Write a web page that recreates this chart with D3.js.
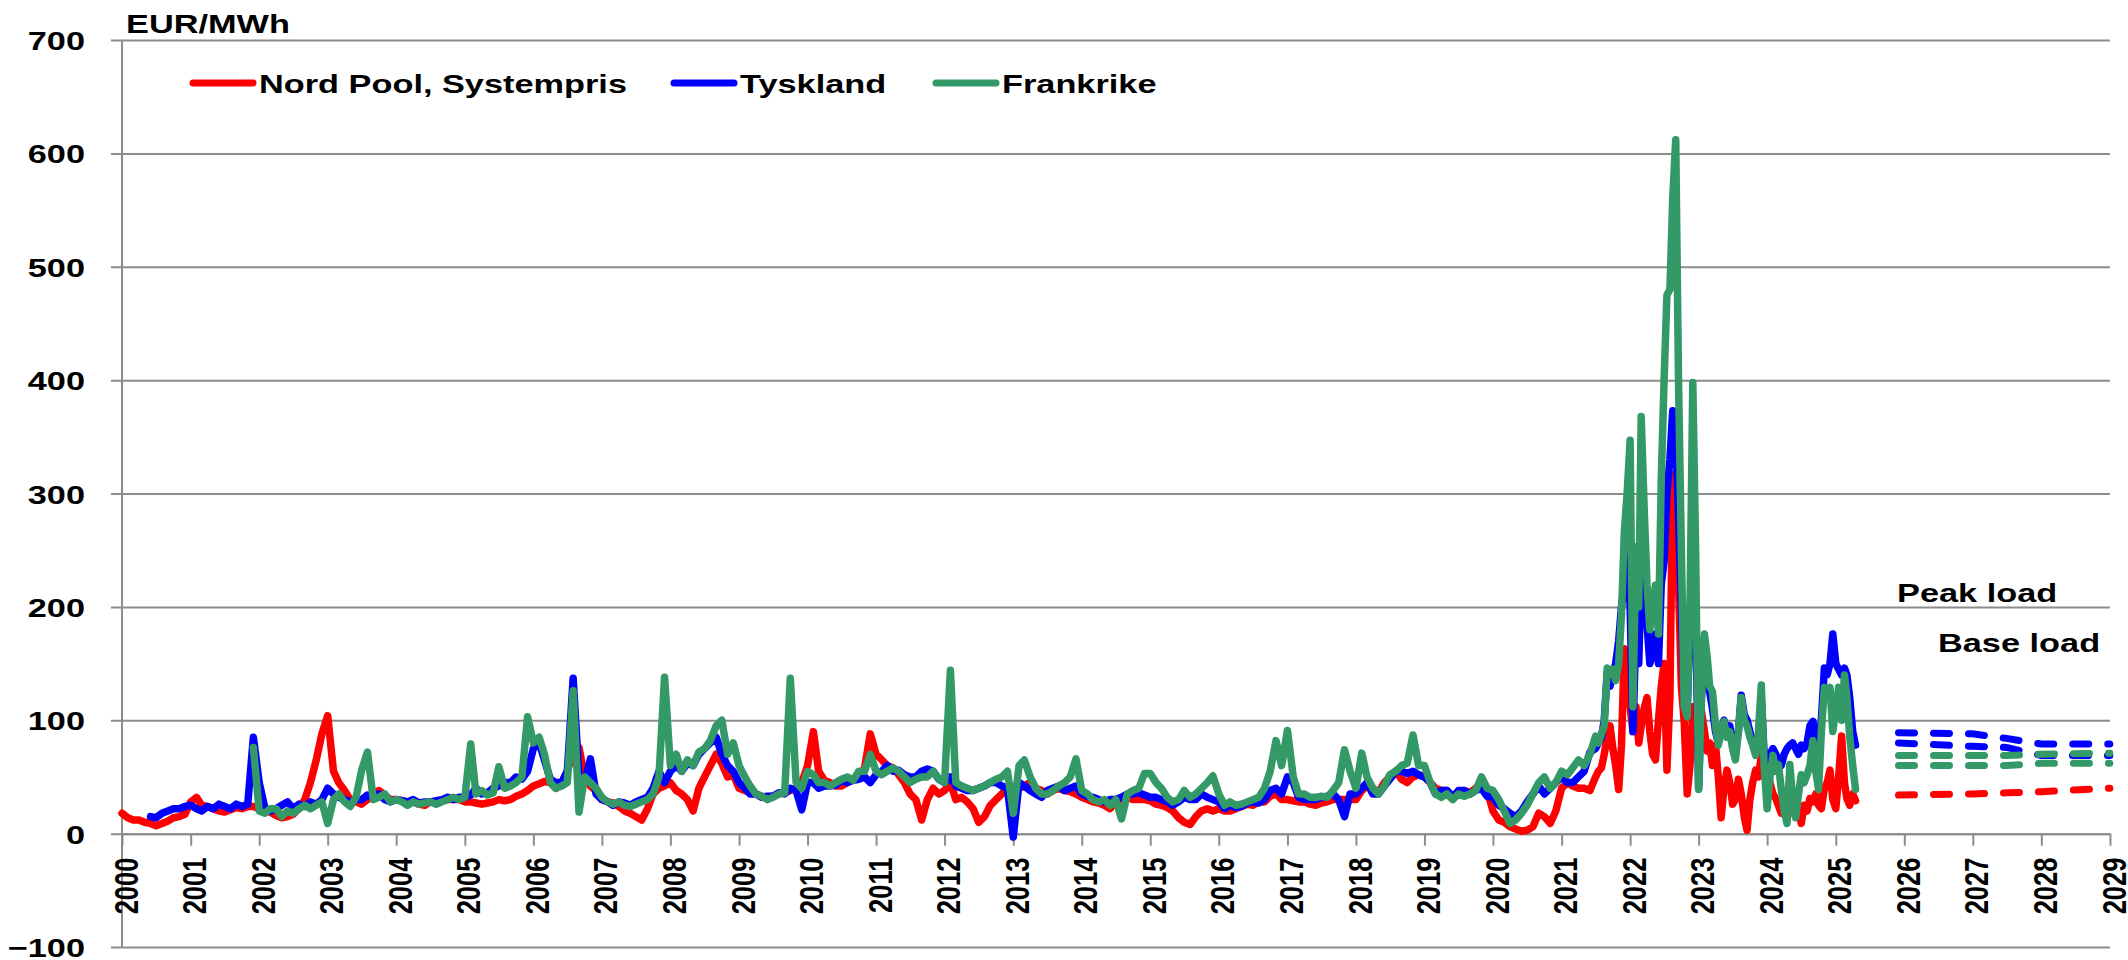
<!DOCTYPE html>
<html>
<head>
<meta charset="utf-8">
<script src="https://cdn.jsdelivr.net/npm/d3@7"></script>
<style>
  body { margin: 0; background: #fff; }
  text { font-family: "Liberation Sans", Arial, sans-serif; font-weight: bold; fill: #000; }
</style>
</head>
<body>
<div id="chart"></div>
<script>
// monthly values, Jan 2000 .. Jun 2021 (EUR/MWh)
var nordPool = [
  18, 14, 12, 12, 10, 9, 7, 9, 11, 14, 15, 17,
  28, 32, 25, 24, 22, 20, 19, 21, 23, 22, 24, 24,
  22, 20, 19, 16, 14, 15, 17, 22, 30, 45, 65, 88,
  104, 55, 45, 38, 30, 28, 26, 30, 35, 38, 34, 30,
  30, 29, 28, 28, 26, 25, 28, 27, 29, 30, 30, 30,
  28, 28, 27, 26, 27, 28, 30, 29, 30, 33, 35, 38,
  42, 44, 46, 45, 40, 45, 55, 72, 76, 50, 42, 38,
  30, 28, 27, 24, 20, 18, 15, 12, 22, 35, 40, 42,
  45, 38, 35, 30, 20, 40, 50, 60, 70, 62, 50, 52,
  40, 38, 36, 35, 33, 32, 33, 35, 36, 38, 40, 45,
  60, 90, 55, 47, 45, 42, 42, 45, 48, 50, 58, 88,
  70, 65, 60, 58, 52, 45, 35, 30, 12, 30, 40, 35,
  38, 45, 30, 32, 28, 22, 10, 15, 25, 30, 35, 40,
  42, 40, 42, 45, 40, 38, 35, 38, 40, 38, 37, 35,
  32, 30, 28, 27, 25, 22, 28, 30, 32, 30, 30, 30,
  29, 26, 25, 23, 20, 14, 10, 8, 15, 20, 22, 20,
  22, 20, 20, 22, 24, 26, 25, 28, 28, 33, 35, 30,
  30, 29, 28, 28, 26, 25, 27, 28, 30, 30, 30, 30,
  30, 38, 42, 40, 36, 45, 50, 55, 48, 45, 50, 52,
  50, 45, 40, 38, 38, 32, 34, 38, 36, 40, 42, 38,
  20, 12, 10, 6, 4, 2, 3, 6, 18, 15, 9, 20,
  40, 45, 42, 40, 40, 38
];

var tyskland = [
  null, null, null, null, null, 15, 14, 18, 20, 22, 22, 24,
  25, 22, 20, 24, 22, 26, 24, 22, 26, 24, 26, 85,
  45, 22, 20, 22, 25, 28, 22, 26, 24, 28, 26, 30,
  40, 35, 32, 30, 28, 30, 30, 34, 32, 35, 30, 28,
  30, 29, 28, 30, 27, 28, 28, 29, 30, 32, 30, 32,
  32, 34, 40, 35, 36, 40, 42, 45, 45, 50, 48, 55,
  75, 80, 65, 48, 45, 45, 55, 137, 50, 45, 66, 35,
  30, 28, 25, 28, 27, 25, 28, 30, 32, 40, 55, 45,
  55, 60, 55, 62, 60, 70, 75, 80, 85, 70, 60, 55,
  45, 40, 35, 35, 32, 33, 33, 36, 35, 40, 38, 21,
  45, 45, 40, 42, 42, 43, 47, 45, 47, 48, 50, 45,
  52, 55, 60, 55, 56, 52, 50, 50, 55, 57, 55, 48,
  45, 50, 42, 40, 38, 38, 40, 42, 45, 45, 42, 40,
  -3, 45, 42, 38, 35, 32, 38, 40, 42, 38, 40, 42,
  35, 33, 32, 30, 28, 30, 30, 32, 35, 35, 36, 34,
  32, 32, 30, 28, 25, 28, 32, 30, 30, 35, 32, 30,
  28, 22, 25, 23, 24, 27, 28, 27, 30, 38, 40, 35,
  50, 45, 32, 30, 30, 30, 32, 33, 35, 30, 15, 35,
  35, 40, 45, 35, 35, 42, 48, 55, 55, 53, 55, 52,
  50, 45, 35, 38, 38, 32, 38, 38, 35, 38, 40, 33,
  32, 25, 22, 18, 15, 20, 28, 35, 42, 35, 40, 45,
  50, 45, 45, 50, 55, 72
];

var frankrike = [
  null, null, null, null, null, null, null, null, null, null, null, null,
  null, null, null, null, null, null, null, null, null, null, null, 76,
  20, 18, 22, 22, 15, 20, 18, 22, 25, 22, 25, 28,
  9, 30, 35, 28, 24, 32, 56, 72, 30, 32, 35, 28,
  30, 28, 25, 28, 26, 27, 28, 26, 28, 30, 32, 30,
  32, 79, 35, 38, 34, 36, 59, 40, 42, 45, 50, 103,
  80, 85, 70, 45, 40, 42, 45, 126, 19, 50, 45, 40,
  32, 28, 26, 28, 25, 24, 26, 28, 30, 35, 50, 138,
  60, 70, 55, 65, 60, 72, 75, 82, 95, 100, 70, 80,
  60, 50, 42, 35, 33, 30, 32, 35, 36, 137, 45, 40,
  55, 52, 45, 45, 42, 45, 48, 50, 47, 55, 55, 70,
  55, 52, 55, 58, 55, 50, 45, 48, 50, 50, 55, 48,
  45, 144, 45, 42, 40, 38, 40, 42, 45, 48, 50, 55,
  18, 60, 65, 50, 40, 35, 35, 38, 42, 45, 50, 66,
  38, 35, 30, 28, 30, 25, 30, 13, 35, 38, 40, 53,
  53, 45, 40, 32, 28, 30, 38, 32, 35, 40, 45, 51,
  35, 25, 28, 25, 26, 28, 30, 32, 40, 55, 82, 60,
  91, 50, 35, 35, 32, 32, 33, 32, 38, 45, 74, 55,
  40, 71, 50, 40, 35, 42, 52, 55, 60, 62, 87, 60,
  60, 45, 35, 32, 35, 30, 35, 33, 35, 38, 50, 40,
  38, 30, 20, 9, 12, 18, 25, 35, 45, 50, 40, 45,
  55, 52, 58, 65, 60, 70
];

// twice a month, 1 Jul 2021 .. 16 Apr 2025 (EUR/MWh)
var nordPoolCrisis = [
  50, 55, 58, 70, 85, 95, 75, 60, 39, 78, 163, 120,
  112, 90, 112, 80, 95, 110, 120, 90, 70, 65, 100, 130,
  150, 56, 120, 317, 250, 219, 130, 99, 35, 60, 112, 90,
  100, 108, 90, 73, 80, 60, 78, 50, 14, 40, 56, 45,
  26, 30, 48, 35, 15, 3, 30, 45, 56, 50, 69, 55,
  61, 45, 35, 31, 25, 18, 30, 22, 26, 20, 15, 20,
  9, 25, 20, 31, 28, 35, 25, 22, 40, 45, 56, 30,
  22, 50, 86, 45, 31, 25, 35, 29
];

var tysklandCrisis = [
  75, 80, 85, 100, 142, 130, 142, 150, 170, 200, 220, 250,
  200, 90, 180, 150, 230, 200, 185, 150, 160, 176, 150, 220,
  240, 300, 330, 373, 350, 280, 200, 120, 110, 180, 300, 200,
  40, 120, 160, 140, 125, 110, 90, 80, 90, 100, 90, 95,
  80, 75, 90, 122, 105, 100, 90, 80, 75, 85, 120, 70,
  60, 70, 75, 70, 65, 60, 70, 75, 78, 80, 75, 70,
  78, 75, 80, 95, 99, 85, 80, 100, 146, 140, 150, 176,
  150, 145, 140, 146, 140, 120, 90, 78
];

var frankrikeCrisis = [
  86, 80, 88, 95, 146, 140, 145, 135, 150, 193, 266, 300,
  347, 112, 253, 200, 368, 291, 220, 180, 200, 219, 176, 313,
  400, 475, 480, 560, 612, 398, 250, 112, 103, 200, 398, 250,
  39, 120, 176, 155, 130, 125, 95, 78, 90, 99, 85, 90,
  75, 65, 90, 120, 100, 95, 85, 78, 69, 90, 131, 60,
  22, 50, 69, 55, 61, 40, 20, 9, 61, 30, 14, 35,
  52, 45, 52, 60, 82, 55, 39, 90, 129, 120, 129, 90,
  110, 129, 100, 140, 120, 86, 60, 39
];

// forward prices (dashed)
var fwdDates = ["2025-12-01", "2026-12-31", "2027-06-30", "2027-12-31", "2028-12-31"];
var fwdTyskPeak = [89, 88, 84, 79, 79];
var fwdTyskBase = [80, 77, 76, 69, 69];
var fwdFrPeak = [69, 69, 69, 70, 71];
var fwdFrBase = [60, 60, 60, 62, 62];
var fwdNordPool = [34, 35, 36, 37, 40];

var yTicks = [-100, 0, 100, 200, 300, 400, 500, 600, 700];
var years = d3.range(2000, 2030);

var svgWidth = 2128, svgHeight = 960;
var plotLeft = 122, plotRight = 2110, plotTop = 40, plotBottom = 947;
var stretch = 1.32;   // the original picture is wider than the font
var gridColor = "#8c8c8c";

var svg = d3.select("#chart").append("svg")
  .attr("width", svgWidth)
  .attr("height", svgHeight)
  .style("background", "#fff");

var x = d3.scaleTime()
  .domain([new Date(2000, 0, 1), new Date(2029, 0, 1)])
  .range([plotLeft, plotRight]);

var y = d3.scaleLinear()
  .domain([-100, 700])
  .range([plotBottom, plotTop]);

// horizontal gridlines + y labels
var yAxis = svg.append("g")
  .attr("transform", "translate(111,0)")
  .call(d3.axisLeft(y)
    .tickValues(yTicks)
    .tickFormat(d3.format("d"))
    .tickSize(-(plotRight - 111))
    .tickPadding(26));
yAxis.select(".domain").remove();
yAxis.selectAll(".tick line")
  .attr("stroke", gridColor)
  .attr("stroke-width", 2);
yAxis.selectAll(".tick text")
  .attr("x", 0)
  .attr("dy", null)
  .attr("transform", "translate(-26,9.5) scale(" + stretch + ",1)")
  .style("font-size", "26px")
  .style("font-family", '"Liberation Sans", Arial, sans-serif')
  .style("font-weight", "bold");

// vertical axis line
svg.append("line")
  .attr("x1", plotLeft).attr("x2", plotLeft)
  .attr("y1", y(700)).attr("y2", y(-100))
  .attr("stroke", gridColor)
  .attr("stroke-width", 2);

// x axis at zero
var xAxis = svg.append("g")
  .attr("transform", "translate(0," + y(0) + ")")
  .call(d3.axisBottom(x)
    .tickValues(years.map(function(yr) { return new Date(yr, 0, 1); }))
    .tickFormat(d3.timeFormat("%Y"))
    .tickSizeInner(12)
    .tickSizeOuter(0));
xAxis.select(".domain")
  .attr("stroke", gridColor)
  .attr("stroke-width", 2);
xAxis.selectAll(".tick line")
  .attr("stroke", gridColor)
  .attr("stroke-width", 2);
xAxis.selectAll(".tick text")
  .attr("y", 0)
  .attr("dy", "0.36em")
  .attr("text-anchor", "end")
  .attr("transform", "translate(3,24) scale(" + stretch + ",1) rotate(-90)")
  .style("font-size", "25.5px")
  .style("font-family", '"Liberation Sans", Arial, sans-serif')
  .style("font-weight", "bold");

// historical series: monthly part then twice-a-month part
function monthDate(i) { return new Date(2000, i, 1); }
function halfMonthDate(k) { return new Date(2021, 6 + Math.floor(k / 2), k % 2 ? 16 : 1); }

var line = d3.line()
  .defined(function(d) { return d.v != null; })
  .x(function(d) { return x(d.date); })
  .y(function(d) { return y(d.v); });

var series = [
  { monthly: nordPool, crisis: nordPoolCrisis, color: "#ff0000" },
  { monthly: tyskland, crisis: tysklandCrisis, color: "#0000ff" },
  { monthly: frankrike, crisis: frankrikeCrisis, color: "#339966" }
];

series.forEach(function(s) {
  var pts = s.monthly.map(function(v, i) { return { date: monthDate(i), v: v }; })
    .concat(s.crisis.map(function(v, k) { return { date: halfMonthDate(k), v: v }; }));
  svg.append("path")
    .datum(pts)
    .attr("fill", "none")
    .attr("stroke", s.color)
    .attr("stroke-width", 7.5)
    .attr("stroke-linejoin", "round")
    .attr("stroke-linecap", "round")
    .attr("d", line);
});

// forward curves
var parse = d3.timeParse("%Y-%m-%d");
var fwd = [
  { values: fwdNordPool, color: "#ff0000" },
  { values: fwdTyskPeak, color: "#0000ff" },
  { values: fwdTyskBase, color: "#0000ff" },
  { values: fwdFrPeak, color: "#339966" },
  { values: fwdFrBase, color: "#339966" }
];
fwd.forEach(function(s) {
  var pts = s.values.map(function(v, i) { return { date: parse(fwdDates[i]), v: v }; });
  svg.append("path")
    .datum(pts)
    .attr("fill", "none")
    .attr("stroke", s.color)
    .attr("stroke-width", 7)
    .attr("stroke-linecap", "round")
    .attr("stroke-dasharray", "16,19")
    .attr("d", line);
});

// texts
function label(txt, tx, ty, anchor) {
  svg.append("text")
    .attr("transform", "translate(" + tx + "," + ty + ") scale(" + stretch + ",1)")
    .attr("text-anchor", anchor || "start")
    .style("font-size", "26px")
    .text(txt);
}

label("EUR/MWh", 126, 33);
label("Peak load", 1897, 602);
label("Base load", 1938, 652);

// legend
var legend = [
  { name: "Nord Pool, Systempris", color: "#ff0000", x: 193 },
  { name: "Tyskland", color: "#0000ff", x: 674 },
  { name: "Frankrike", color: "#339966", x: 936 }
];
legend.forEach(function(l) {
  svg.append("line")
    .attr("x1", l.x).attr("x2", l.x + 60)
    .attr("y1", 83).attr("y2", 83)
    .attr("stroke", l.color)
    .attr("stroke-width", 7)
    .attr("stroke-linecap", "round");
  label(l.name, l.x + 66, 93);
});
</script>
</body>
</html>
